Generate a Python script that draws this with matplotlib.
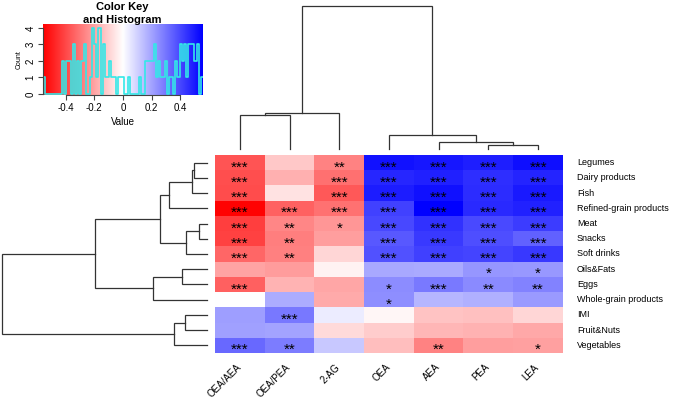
import numpy as np
import matplotlib
matplotlib.use("Agg")
import matplotlib.pyplot as plt
from matplotlib.colors import LinearSegmentedColormap

plt.rcParams["font.family"] = ["Liberation Sans", "DejaVu Sans"]
plt.rcParams["axes.unicode_minus"] = False

# ---------------- data ----------------
rows = ["Legumes", "Dairy products", "Fish", "Refined-grain products", "Meat",
        "Snacks", "Soft drinks", "Oils&Fats", "Eggs", "Whole-grain products",
        "IMI", "Fruit&Nuts", "Vegetables"]
cols = ["OEA/AEA", "OEA/PEA", "2-AG", "OEA", "AEA", "PEA", "LEA"]

values = [
    [-0.37, -0.12, -0.27, 0.515, 0.505, 0.49, 0.525],
    [-0.385, -0.17, -0.31, 0.47, 0.485, 0.455, 0.475],
    [-0.39, -0.065, -0.365, 0.495, 0.52, 0.46, 0.50],
    [-0.55, -0.34, -0.305, 0.41, 0.55, 0.465, 0.48],
    [-0.42, -0.265, -0.23, 0.40, 0.445, 0.395, 0.425],
    [-0.41, -0.28, -0.21, 0.365, 0.43, 0.385, 0.34],
    [-0.335, -0.275, -0.09, 0.375, 0.415, 0.405, 0.435],
    [-0.20, -0.215, -0.03, 0.19, 0.185, 0.23, 0.225],
    [-0.345, -0.165, -0.195, 0.25, 0.29, 0.255, 0.27],
    [0.00, 0.18, -0.185, 0.245, 0.16, 0.17, 0.22],
    [0.21, 0.295, 0.04, -0.02, -0.13, -0.135, -0.09],
    [0.205, 0.20, -0.08, -0.11, -0.16, -0.168, -0.19],
    [0.33, 0.285, 0.12, -0.14, -0.27, -0.21, -0.205],
]

stars = [
    ["***", "", "**", "***", "***", "***", "***"],
    ["***", "", "***", "***", "***", "***", "***"],
    ["***", "", "***", "***", "***", "***", "***"],
    ["***", "***", "***", "***", "***", "***", "***"],
    ["***", "**", "*", "***", "***", "***", "***"],
    ["***", "**", "", "***", "***", "***", "***"],
    ["***", "**", "", "***", "***", "***", "***"],
    ["", "", "", "", "", "*", "*"],
    ["***", "", "", "*", "***", "**", "**"],
    ["", "", "", "*", "", "", ""],
    ["", "***", "", "", "", "", ""],
    ["", "", "", "", "", "", ""],
    ["***", "**", "", "", "**", "", "*"],
]

# dendrogram merges: (left child, right child, height); clusters numbered n, n+1, ...
row_merges = [
    (0, 1, 13), (13, 2, 15), (14, 3, 38), (4, 5, 8), (16, 6, 21),
    (15, 17, 47), (7, 8, 25), (19, 9, 54), (18, 20, 112),
    (10, 11, 22), (22, 12, 33), (21, 23, 205),
]
col_merges = [
    (0, 1, 34), (7, 2, 36), (5, 6, 4), (4, 9, 7), (3, 10, 14), (8, 11, 143),
]

key_ticks = [-0.4, -0.2, 0, 0.2, 0.4]
key_tick_labels = ["-0.4", "-0.2", "0", "0.2", "0.4"]
count_ticks = [0, 1, 2, 3, 4]
vlim = 0.557
n_bins = 75

# ---------------- layout ----------------
W, H = 678, 400
fig = plt.figure(figsize=(W / 100, H / 100), dpi=100)


def ax_px(x0, y0, x1, y1):
    return fig.add_axes([x0 / W, 1 - y1 / H, (x1 - x0) / W, (y1 - y0) / H])


cmap = LinearSegmentedColormap.from_list("rwb", ["#FF0000", "#FFFFFF", "#0000FF"])
mat = np.array(values)
nr, nc = mat.shape

# heatmap
hx0, hy0, hx1, hy1 = 215, 155, 563, 353
ax = ax_px(hx0, hy0, hx1, hy1)
ax.imshow(mat, cmap=cmap, vmin=-vlim, vmax=vlim, aspect="auto",
          interpolation="nearest", extent=(-0.5, nc - 0.5, nr - 0.5, -0.5))
ax.set_xlim(-0.5, nc - 0.5)
ax.set_ylim(nr - 0.5, -0.5)
ax.axis("off")
for i in range(nr):
    for j in range(nc):
        if stars[i][j]:
            ax.text(j, i + 0.32, stars[i][j], ha="center", va="center",
                    fontsize=11, color="black")

cw = (hx1 - hx0) / nc
rh = (hy1 - hy0) / nr
for i, r in enumerate(rows):
    fig.text(577 / W, 1 - (hy0 + rh * (i + 0.5)) / H, r, ha="left",
             va="center", fontsize=6.5)
for j, c in enumerate(cols):
    fig.text((hx0 + cw * (j + 0.5) + 3) / W, 1 - 362 / H, c, ha="right",
             va="top", rotation=45, fontsize=7)


def draw_dendro(a, merges, n, orient):
    pos = {i: float(i) for i in range(n)}
    hgt = {i: 0.0 for i in range(n)}
    for k, (l, r, h) in enumerate(merges):
        cid = n + k
        xl, xr = pos[l], pos[r]
        if orient == "top":
            a.plot([xl, xl, xr, xr], [hgt[l], h, h, hgt[r]], color="#333333",
                   lw=0.9, clip_on=False, solid_joinstyle="miter")
        else:
            a.plot([hgt[l], h, h, hgt[r]], [xl, xl, xr, xr], color="#333333",
                   lw=0.9, clip_on=False, solid_joinstyle="miter")
        pos[cid] = (xl + xr) / 2
        hgt[cid] = h


# column dendrogram
axc = ax_px(hx0, 0, hx1, 149)
draw_dendro(axc, col_merges, nc, "top")
axc.set_xlim(-0.5, nc - 0.5)
axc.set_ylim(0, 149)
axc.axis("off")

# row dendrogram
axr = ax_px(0, hy0, 207, hy1)
draw_dendro(axr, row_merges, nr, "left")
axr.set_xlim(207, 0)
axr.set_ylim(nr - 0.5, -0.5)
axr.axis("off")

# color key
axk = ax_px(43, 24, 203, 95)
grad = np.linspace(-vlim, vlim, 256).reshape(1, -1)
axk.imshow(grad, cmap=cmap, vmin=-vlim, vmax=vlim, aspect="auto",
           extent=(-vlim, vlim, -0.06, 4.24), interpolation="bilinear")
bins = np.linspace(-vlim, vlim, n_bins + 1)
counts = np.histogram(mat.ravel(), bins=bins)[0]
axk.step(bins, np.append(counts, counts[-1]), where="post", color="#33E8E8", lw=1.2)
axk.set_xlim(-vlim, vlim)
axk.set_ylim(-0.06, 4.24)
for s in ["top", "right"]:
    axk.spines[s].set_visible(False)
axk.spines["left"].set_bounds(0, 4)
axk.spines["bottom"].set_bounds(-0.4, 0.4)
for s in ["left", "bottom"]:
    axk.spines[s].set_color("#444444")
    axk.spines[s].set_linewidth(0.8)
axk.set_xticks(key_ticks)
axk.set_xticklabels(key_tick_labels, fontsize=7)
axk.set_yticks(count_ticks)
axk.set_yticklabels([str(c) for c in count_ticks], fontsize=7, rotation=90,
                    va="center")
axk.tick_params(axis="both", length=3.5, width=0.8, color="#444444", pad=2)
axk.set_xlabel("Value", fontsize=7, labelpad=3)
axk.set_ylabel("Count", fontsize=5, labelpad=2)
fig.text(122 / W, 1 - 7 / H, "Color Key", ha="center", va="center",
         fontsize=8, fontweight="bold")
fig.text(122 / W, 1 - 20 / H, "and Histogram", ha="center", va="center",
         fontsize=8, fontweight="bold")

fig.savefig("out.png", dpi=100)
